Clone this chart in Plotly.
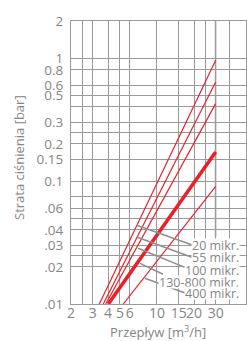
import plotly.graph_objects as go
import math

# ---- data ----
filters = ["20 mikr.", "55 mikr.", "100 mikr.", "130-800 mikr.", "400 mikr."]
flow_start = [3.40, 3.66, 3.83, 4.02, 5.32]      # m3/h at 0.01 bar
drop_start = [0.01, 0.01, 0.01, 0.01, 0.01]
flow_end = [30, 30, 30, 30, 30]
drop_end = [0.958, 0.638, 0.426, 0.172, 0.0906]  # bar at 30 m3/h
line_widths = [1.2, 1.2, 1.2, 3.6, 1.2]

x_grid = [2, 2.5, 3, 4, 5, 6, 10, 15, 20, 25, 30, 39]
x_labels = ["2", "", "3", "4", "5", "6", "10", "15", "20", "", "30", ""]
y_grid = [2, 1, 0.8, 0.6, 0.5, 0.4, 0.3, 0.25, 0.2, 0.15, 0.1, 0.075, 0.06,
          0.05, 0.04, 0.03, 0.025, 0.02, 0.01]
y_labels = ["2", "1", "0.8", "0.6", "0.5", "", "0.3", "", "0.2", "0.15", "0.1",
            "", ".06", "", ".04", ".03", "", ".02", ".01"]
x_title = "Przepływ [m<sup>3</sup>/h]"
y_title = "Strata ciśnienia [bar]"

# leader line positions (flow, drop) start near the curve, end near label
leader_start = [(6.84, 0.0437), (6.84, 0.0351), (7.04, 0.0284), (7.28, 0.0214), (7.98, 0.0162)]
leader_end = [(19.6, 0.0300), (19.2, 0.0240), (17.6, 0.0195), (11.2, 0.01744), (16.9, 0.01228)]
label_y_px = [245, 257.3, 270, 282, 293]

RED = "#e6222b"
GRID = "#9a9a9a"
TXT = "#868686"
FONT = "Open Sans"

fig = go.Figure()

for i in range(len(filters)):
    fig.add_trace(go.Scatter(
        x=[flow_start[i], flow_end[i]], y=[drop_start[i], drop_end[i]],
        mode="lines", line=dict(color=RED, width=line_widths[i]),
        hoverinfo="skip", showlegend=False))

for (s, e) in zip(leader_start, leader_end):
    fig.add_trace(go.Scatter(
        x=[s[0], e[0]], y=[s[1], e[1]], mode="lines",
        line=dict(color="#8f8f8f", width=1.5),
        hoverinfo="skip", showlegend=False))

W, H = 247, 341
ml, mr, mt, mb = 71, 1, 21, 37
pw = W - ml - mr
ph = H - mt - mb

xr = [math.log10(2), math.log10(2) + pw / 123.0]
yr = [math.log10(0.01), math.log10(2)]

shapes = [
    dict(type="line", xref="x", yref="paper", x0=30, x1=30, y0=0, y1=1,
         line=dict(color="#c8c8c8", width=2), layer="below"),
    dict(type="rect", xref="x", yref="y", x0=10.5, x1=60, y0=0.0098, y1=0.0352,
         fillcolor="white", line=dict(width=0), layer="below"),
]

annotations = []
for name, py in zip(filters, label_y_px):
    annotations.append(dict(
        text=name, xref="paper", yref="paper", x=(240 - ml) / pw,
        y=(H - mb - py) / ph, xanchor="right", yanchor="middle", showarrow=False,
        bgcolor="white", borderpad=0, height=12,
        font=dict(family=FONT, size=12.5, color=TXT)))

# axis titles
annotations.append(dict(
    text=x_title, xref="paper", yref="paper", x=(158 - ml) / pw,
    y=(H - mb - 331) / ph, xanchor="center", yanchor="middle", showarrow=False,
    font=dict(family=FONT, size=13, color=TXT)))
annotations.append(dict(
    text=y_title, xref="paper", yref="paper", x=(19 - ml) / pw,
    y=(H - mb - 158) / ph, xanchor="center", yanchor="middle", showarrow=False,
    textangle=-90, font=dict(family=FONT, size=13, color=TXT)))

fig.update_layout(
    width=W, height=H, margin=dict(l=ml, r=mr, t=mt, b=mb, autoexpand=False),
    paper_bgcolor="white", plot_bgcolor="white",
    shapes=shapes, annotations=annotations,
    font=dict(family=FONT, color=TXT),
)
fig.update_xaxes(
    type="log", range=xr, tickmode="array", tickvals=x_grid, ticktext=x_labels,
    showgrid=True, gridcolor=GRID, gridwidth=1.3, zeroline=False,
    showline=True, linecolor=GRID, linewidth=1.3, mirror=True,
    ticks="", tickangle=0, ticklabelstandoff=-4,
    automargin=False,
    tickfont=dict(family=FONT, size=14, color=TXT),
)
fig.update_yaxes(
    type="log", range=yr, tickmode="array", tickvals=y_grid, ticktext=y_labels,
    showgrid=True, gridcolor=GRID, gridwidth=1.3, zeroline=False,
    showline=True, linecolor=GRID, linewidth=1.3, mirror=True,
    ticks="outside", ticklen=4, tickcolor="rgba(0,0,0,0)",
    automargin=False,
    tickfont=dict(family=FONT, size=13.5, color=TXT),
)

fig.write_html("out.html", config={"displayModeBar": False},
               post_script="document.body.style.margin='0';document.body.style.overflow='hidden';")
